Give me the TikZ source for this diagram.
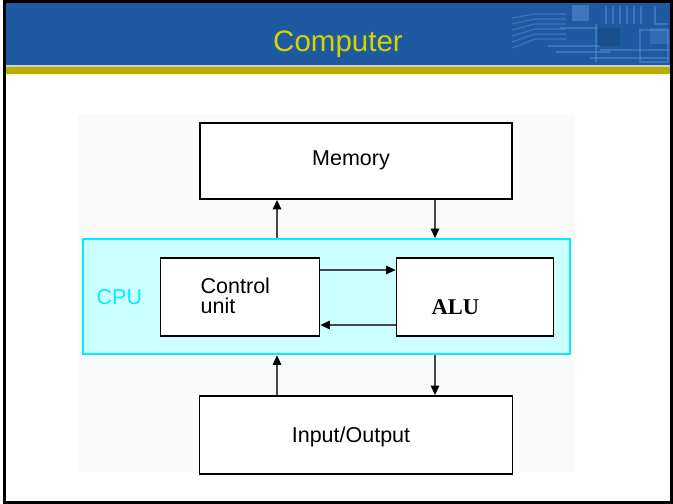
\documentclass[tikz,border=0pt]{standalone}
\usepackage{fontspec}
\setmainfont{Liberation Sans}
\newfontfamily\aluserif{Liberation Serif}
\usetikzlibrary{arrows.meta}

\definecolor{barblue}{RGB}{31,90,160}
\definecolor{barstrip}{RGB}{200,208,212}
\definecolor{bargold}{RGB}{186,174,0}
\definecolor{barpale}{RGB}{255,255,205}
\definecolor{titleyellow}{RGB}{214,212,0}
\definecolor{cpuline}{RGB}{0,238,255}
\definecolor{cpufill}{RGB}{204,255,255}
\definecolor{backdrop}{RGB}{250,250,250}
\definecolor{trace}{RGB}{96,148,212}
\definecolor{wire}{RGB}{70,70,70}

\tikzset{
  unitbox/.style={draw=black, line width=1.8pt, fill=white, inner sep=0pt},
  cpubox/.style={draw=cpuline, line width=2.2pt, fill=cpufill, inner sep=0pt},
  lbl/.style={inner sep=0pt, font=\fontsize{21.5}{24}\selectfont},
  flow/.style={draw=wire, line width=1.3pt,
    -{Triangle[length=9.5pt,width=8.5pt,color=black]}},
  pcb/.style={draw=trace, line width=1.1pt, opacity=0.45},
}

\begin{document}
\begin{tikzpicture}[x=1pt,y=-1pt]
  \useasboundingbox (0,0) rectangle (673,504);
  \fill[white] (0,0) rectangle (673,504);

  % title bar with its stripes
  \fill[barblue] (3,3) rectangle (670,64.5);
  \fill[barstrip] (3,64.5) rectangle (670,67);
  \fill[bargold] (3,67) rectangle (670,74);
  \fill[barpale] (3,74) rectangle (670,76);

  % circuit-board texture on the right of the bar
  \begin{scope}[pcb]
    \foreach \y/\z in {10/14, 16/19, 22/24, 28/29, 34/34, 40/39} {
      \draw (512,\y+8) -- (535,\z) -- (566,\z);
    }
    \draw (548,46) -- (600,46);
    \draw (556,52) -- (610,52);
    \draw (590,58) -- (668,58);
    \draw (600,50) -- (668,50);
    \draw (560,28) -- (598,28);
    \draw (596,24) -- (596,62);
    \foreach \x in {606,613,620,627,634,641} {
      \draw (\x,6) -- (\x,24);
    }
    \draw (640,30) rectangle (668,62);
    \draw (655,6) -- (655,24) -- (668,24);
  \end{scope}
  \fill[trace, opacity=0.5] (572,5) rectangle (589,21);
  \fill[trace, opacity=0.3] (650,28) rectangle (668,44);
  \fill[barblue!75!black, opacity=0.5] (598,28) rectangle (620,46);

  % title
  \node[anchor=base, inner sep=0pt, text=titleyellow,
        font=\fontsize{29.5}{32}\selectfont] (title) at (338,51) {Computer};

  % light backdrop of the diagram
  \fill[backdrop] (78,115) rectangle (575,472);

  % blocks
  \node[unitbox, minimum width=312pt, minimum height=76pt] (mem) at (356,161) {};
  \node[cpubox, minimum width=487pt, minimum height=115pt] (cpu) at (326.5,296.7) {};
  \node[unitbox, minimum width=159pt, minimum height=78pt] (cu) at (240,296.6) {};
  \node[unitbox, minimum width=157pt, minimum height=78pt] (alu) at (475,296.7) {};
  \node[unitbox, minimum width=313pt, minimum height=78pt] (io) at (356,435) {};

  % labels
  \node[lbl, anchor=base] (memtext) at (351,165) {Memory};
  \node[lbl, anchor=base] (iotext) at (351,442) {Input/Output};
  \node[lbl, anchor=base west] (cutextA) at (200.5,293) {Control};
  \node[lbl, anchor=base west] (cutextB) at (200.5,313) {unit};
  \node[lbl, anchor=base west, text=cpuline] (cputext) at (96.5,304) {CPU};
  \node[anchor=base west, inner sep=0pt,
        font=\aluserif\bfseries\fontsize{22.5}{24}\selectfont] (alutext) at (431.5,314) {ALU};

  % connector columns and rows
  \coordinate (upx) at (277,0);
  \coordinate (dnx) at (435,0);
  \coordinate (toalu) at (0,270);
  \coordinate (tocu) at (0,325);

  \draw[flow] (cpu.north -| upx) -- (mem.south -| upx);
  \draw[flow] (mem.south -| dnx) -- (cpu.north -| dnx);
  \draw[flow] (cu.east |- toalu) -- (alu.west |- toalu);
  \draw[flow] (alu.west |- tocu) -- (cu.east |- tocu);
  \draw[flow] (io.north -| upx) -- (cpu.south -| upx);
  \draw[flow] (cpu.south -| dnx) -- (io.north -| dnx);

  % outer frame
  \draw[black, line width=3pt] (4.5,1.5) rectangle (671.5,502.5);
\end{tikzpicture}
\end{document}
